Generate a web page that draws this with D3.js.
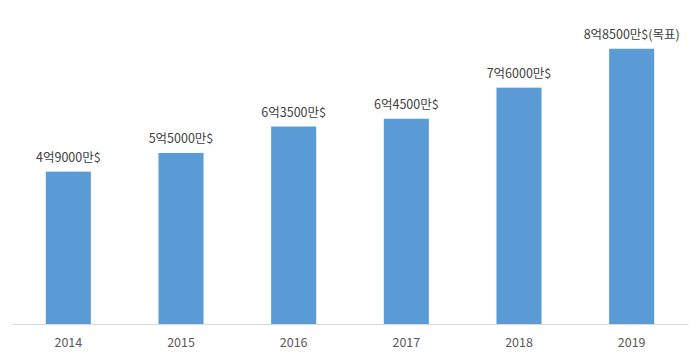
<!DOCTYPE html>
<html>
<head>
<meta charset="utf-8">
<script src="https://cdn.jsdelivr.net/npm/d3@7"></script>
<style>
  body { margin: 0; background: #fff; }
  text { font-family: 'Noto Sans CJK KR', 'Noto Sans', sans-serif; }
</style>
</head>
<body>
<div id="chart"></div>
<script>
const years = ['2014', '2015', '2016', '2017', '2018', '2019']
// bar heights (unit: 억 $)
const values = [4.9, 5.5, 6.35, 6.6, 7.6, 8.85]
const valueLabels = ['4억9000만$', '5억5000만$', '6억3500만$', '6억4500만$', '7억6000만$', '8억8500만$(목표)']

const width = 700,
  height = 359
const margin = { top: 13, right: 12, bottom: 35, left: 12 }

const svg = d3
  .select('#chart')
  .append('svg')
  .attr('width', width)
  .attr('height', height)

const x = d3
  .scaleBand()
  .domain(years)
  .range([margin.left, width - margin.right])
  .paddingInner(0.6)
  .paddingOuter(0.3)

const y = d3
  .scaleLinear()
  .domain([0, 10])
  .range([height - margin.bottom, margin.top])

// bars
svg
  .selectAll('.bar')
  .data(values)
  .join('rect')
  .attr('class', 'bar')
  .attr('x', (d, i) => x(years[i]))
  .attr('width', x.bandwidth())
  .attr('y', (d) => y(d))
  .attr('height', (d) => y(0) - y(d))
  .attr('fill', '#5b9bd5')

// value labels
svg
  .selectAll('.val')
  .data(values)
  .join('text')
  .attr('class', 'val')
  .attr('x', (d, i) => x(years[i]) + x.bandwidth() / 2)
  .attr('y', (d) => y(d) - 10)
  .attr('text-anchor', 'middle')
  .attr('font-size', '12.5px')
  .attr('fill', '#404040')
  .text((d, i) => valueLabels[i])

// x axis
const xAxis = svg
  .append('g')
  .attr('transform', `translate(0,${y(0)})`)
  .call(d3.axisBottom(x).tickSize(0).tickPadding(14).tickSizeOuter(0))
xAxis.select('.domain').attr('stroke', '#d9d9d9')
xAxis
  .selectAll('text')
  .attr('font-size', '12.5px')
  .attr('fill', '#595959')
  .style('font-family', "'Noto Sans CJK KR', 'Noto Sans', sans-serif")
</script>
</body>
</html>
